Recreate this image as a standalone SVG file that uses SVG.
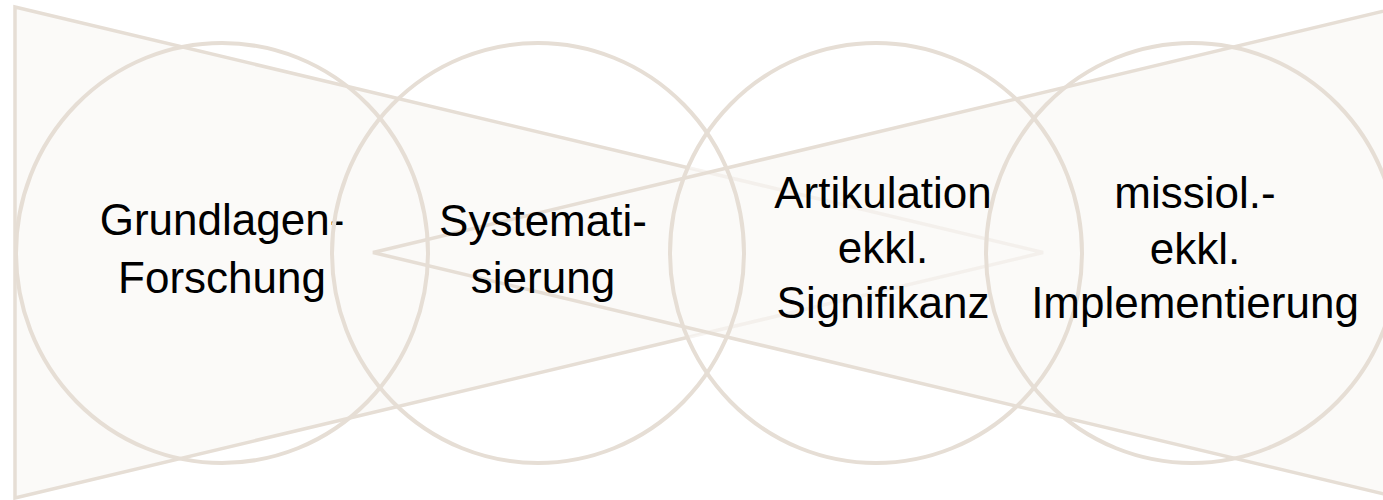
<svg xmlns="http://www.w3.org/2000/svg" width="1383" height="500" viewBox="0 0 1383 500">
  <style>
    .tri-fill { fill: #FBFAF8; stroke: none; }
    .tri-line { fill: none; stroke: #E6DED5; stroke-width: 3.5; stroke-linejoin: miter; }
    .ring { fill: none; stroke: #E6DED5; stroke-width: 4; }
    .label { font-family: "Liberation Sans", Arial, sans-serif; font-size: 44px; fill: #000000; text-anchor: middle; }
  </style>
  <defs>
    <mask id="fadeRight" maskUnits="userSpaceOnUse" x="0" y="0" width="1383" height="500">
      <rect x="0" y="0" width="1383" height="500" fill="#ffffff"/>
      <ellipse cx="876" cy="253" rx="206" ry="210" fill="#555555"/>
      <ellipse cx="1192" cy="253" rx="206" ry="210" fill="#555555"/>
    </mask>
  </defs>
  <rect x="0" y="0" width="1383" height="500" fill="#ffffff"/>
  <g id="background">
    <polygon class="tri-fill" points="15,7 15,498 1043,252.5"/>
    <polygon class="tri-fill" points="1401,7 1401,498 373,252.5"/>
    <polygon class="tri-line" points="15,7 15,498 1043,252.5" mask="url(#fadeRight)"/>
    <polygon class="tri-line" points="1401,7 1401,498 373,252.5"/>
  </g>
  <g id="connectors"></g>
  <g id="node-grundlagen">
    <ellipse class="ring" cx="222" cy="253" rx="206" ry="210"/>
    <text class="label" x="222" y="235">Grundlagen-</text>
    <text class="label" x="222" y="293">Forschung</text>
  </g>
  <g id="node-systematisierung">
    <ellipse class="ring" cx="538" cy="253" rx="206" ry="210"/>
    <text class="label" x="543" y="236">Systemati-</text>
    <text class="label" x="543" y="293">sierung</text>
  </g>
  <g id="node-artikulation">
    <ellipse class="ring" cx="876" cy="253" rx="206" ry="210"/>
    <text class="label" x="883" y="208">Artikulation</text>
    <text class="label" x="883" y="263">ekkl.</text>
    <text class="label" x="883" y="318">Signifikanz</text>
  </g>
  <g id="node-implementierung">
    <ellipse class="ring" cx="1192" cy="253" rx="206" ry="210"/>
    <text class="label" x="1195" y="208">missiol.-</text>
    <text class="label" x="1195" y="264">ekkl.</text>
    <text class="label" x="1195" y="318">Implementierung</text>
  </g>
</svg>
